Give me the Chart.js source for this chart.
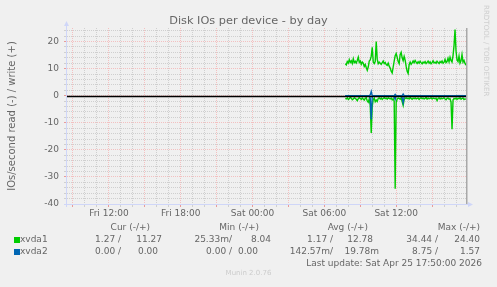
<!DOCTYPE html>
<html>
<head>
<meta charset="utf-8">
<title>Disk IOs per device - by day</title>
<script src="https://cdn.jsdelivr.net/npm/chart.js@4.4.1/dist/chart.umd.min.js"></script>
<style>
    body { margin: 0; background: #f0f0f0; font-family: "DejaVu Sans", sans-serif; color: #666666; }
    #contenedor { position: relative; width: 497px; height: 287px; overflow: hidden; }
    #grafica { position: absolute; left: 0; top: 0; }
    .txt { position: absolute; font-size: 9px; line-height: 11px; white-space: pre; }
    #titulo { position: absolute; left: 0; width: 497px; top: 14px; text-align: center; font-size: 11.3px; color: #666666; }
    #rrd { position: absolute; left: 487px; top: 5px; font-size: 7.1px; color: #cfcfcf; transform-origin: 0 0; transform: translate(-4px, 0) rotate(90deg) translate(0, -8px); white-space: pre; }
    #munin { position: absolute; left: 0; width: 497px; top: 269px; text-align: center; font-size: 7px; color: #cccccc; }
    .cuadro { position: absolute; width: 6px; height: 6px; }
</style>
</head>
<body>
<div id="contenedor">
    <canvas id="grafica" width="497" height="287"></canvas>
    <div id="titulo">Disk IOs per device - by day</div>
    <div id="rrd">RRDTOOL / TOBI OETIKER</div>
    <div id="munin">Munin 2.0.76</div>
    <div id="leyenda"></div>
</div>
<script>
// datos: una muestra cada 5 minutos desde Sat 07:45 hasta Sat 17:50
const inicioMin = 465;   // minutos desde Sat 00:00
const pasoMin = 5;

const xvda1Escritura = [
    11.8, 11.4, 12.6, 12.1, 13.3, 12.3, 12.9, 11.9, 13.6, 12.2,
    12.7, 12.1, 13.0, 14.2, 12.3, 12.8, 11.6, 12.4, 12.0, 10.8,
    11.5, 10.4, 9.4, 10.6, 12.8, 13.2, 14.6, 17.9, 12.5, 11.9,
    12.6, 20.0, 13.5, 11.8, 12.4, 12.0, 11.6, 12.2, 12.8, 11.9,
    12.3, 11.5, 11.2, 12.0, 10.9, 10.2, 9.0, 8.4, 10.6, 12.8,
    14.8, 15.6, 14.2, 12.6, 11.8, 15.2, 16.0, 14.0, 12.9, 14.5,
    13.1, 10.8, 9.0, 8.2, 11.5, 12.4, 11.6, 12.1, 12.8, 12.2,
    13.0, 12.4, 11.9, 12.5, 12.0, 12.7, 12.2, 11.8, 12.4, 12.1,
    12.6, 11.9, 12.3, 12.8, 12.0, 12.5, 11.8, 12.2, 12.9, 12.1,
    12.4, 12.0, 12.7, 12.3, 11.9, 12.6, 12.2, 12.8, 12.0, 12.4,
    13.4, 12.2, 12.6, 13.8, 12.5, 14.2, 13.0, 12.4, 14.8, 18.5,
    24.4, 16.5, 13.2, 12.6, 14.6, 12.0, 12.9, 15.2, 12.4, 13.0,
    11.9, 11.27
];
const xvda1Lectura = [
    1.0, 1.2, 0.8, 1.4, 1.1, 0.6, 0.9, 1.5, 1.2, 0.8,
    1.0, 1.3, 1.8, 1.1, 0.7, 1.0, 1.4, 0.9, 1.2, 1.6,
    1.0, 0.8, 1.9, 2.4, 1.2, 3.5, 13.8, 4.0, 1.4, 0.9,
    2.2, 1.6, 2.1, 1.0, 0.8, 1.2, 0.9, 1.4, 1.0, 0.7,
    1.1, 0.9, 1.3, 0.8, 1.0, 1.2, 0.9, 1.5, 1.1, 2.0,
    34.4, 2.5, 1.2, 0.9, 1.0, 1.3, 0.8, 2.2, 3.6, 1.4,
    1.0, 0.8, 1.1, 0.9, 1.2, 0.7, 1.0, 1.3, 0.9, 1.1,
    0.8, 1.2, 1.0, 0.9, 1.4, 1.0, 0.8, 1.1, 0.9, 1.2,
    1.0, 0.7, 1.3, 0.9, 1.1, 1.0, 0.8, 1.2, 0.9, 1.0,
    1.1, 0.9, 1.8, 1.0, 0.8, 1.2, 0.9, 1.1, 1.0, 0.8,
    1.2, 1.5, 1.0, 0.9, 1.3, 1.1, 2.4, 12.4, 1.6, 1.0,
    1.2, 0.9, 1.4, 1.0, 1.1, 0.8, 1.3, 1.0, 0.9, 1.4,
    1.2, 1.27
];
const xvda2Escritura = [
    0, 0, 0, 0, 0, 0, 0, 0, 0, 0,
    0, 0, 0, 0, 0, 0, 0, 0, 0, 0,
    0, 0, 0, 0, 0, 0.3, 1.57, 0, 0, 0,
    0, 0, 0, 0, 0, 0, 0, 0, 0, 0,
    0, 0, 0, 0, 0, 0, 0, 0, 0, 0,
    0.5, 0, 0, 0, 0, 0, 0, 0, 0.6, 0,
    0, 0, 0, 0, 0, 0, 0, 0, 0, 0,
    0, 0, 0, 0, 0, 0, 0, 0, 0, 0,
    0, 0, 0, 0, 0, 0, 0, 0, 0, 0,
    0, 0, 0, 0, 0, 0, 0, 0, 0, 0,
    0, 0, 0, 0, 0, 0, 0, 0, 0, 0,
    0, 0, 0, 0, 0, 0, 0, 0, 0, 0,
    0, 0
];
const xvda2Lectura = [
    0, 0, 0, 0, 0, 0, 0, 0, 0, 0,
    0, 0, 0, 0, 0, 0, 0, 0, 0, 0,
    0, 0, 0, 0, 0, 1.0, 8.75, 0.5, 0, 0,
    0, 0, 0, 0, 0, 0, 0, 0, 0, 0,
    0, 0, 0, 0, 0, 0, 0, 0, 0, 0.6,
    1.4, 0, 0, 0, 0, 0, 0, 0.8, 2.6, 0.4,
    0, 0, 0, 0, 0, 0, 0, 0, 0, 0,
    0, 0, 0, 0, 0, 0, 0, 0, 0, 0,
    0, 0, 0, 0, 0, 0, 0, 0, 0, 0,
    0, 0, 0, 0, 0, 0, 0, 0, 0, 0,
    0, 0, 0, 0, 0, 0, 0, 0, 0, 0,
    0, 0, 0.2, 0, 0.3, 0, 0.2, 0, 0.3, 0.2,
    0, 0
];

const etiquetasX = ['Fri 12:00', 'Fri 18:00', 'Sat 00:00', 'Sat 06:00', 'Sat 12:00'];
const minutosEtiquetasX = [-720, -360, 0, 360, 720];

const dispositivos = ['xvda1', 'xvda2'];
const coloresDisp = ['#00cc00', '#0066b3'];
const encabezados = ['Cur (-/+)', 'Min (-/+)', 'Avg (-/+)', 'Max (-/+)'];
const statsXvda1 = ['1.27 /', '11.27', '25.33m/', '8.04', '1.17 /', '12.78', '34.44 /', '24.40'];
const statsXvda2 = ['0.00 /', '0.00', '0.00 /', '0.00', '142.57m/', '19.78m', '8.75 /', '1.57'];
const ultimaActualizacion = 'Last update: Sat Apr 25 17:50:00 2026';

// rango del eje: 33h20m hasta el ultimo update
const xMin = -930, xMax = 1070;
const yMin = -40, yMax = 25;

const colorMenor = '#cfcfcf';
const colorMayor = '#f3c0c0';

function serie(valores, signo) {
    return valores.map((v, i) => ({ x: inicioMin + i * pasoMin, y: signo * v }));
}

function dataset(valores, signo, color, orden) {
    return {
        data: serie(valores, signo),
        borderColor: color,
        borderWidth: 1.4,
        pointRadius: 0,
        tension: 0,
        fill: false,
        order: orden
    };
}

const ejesMunin = {
    id: 'ejesMunin',
    afterDatasetsDraw(chart) {
        const { ctx, chartArea: a, scales } = chart;
        const y0 = Math.round(scales.y.getPixelForValue(0)) + 0.5;
        ctx.save();
        // linea de cero
        ctx.strokeStyle = '#000000';
        ctx.lineWidth = 1.5;
        ctx.beginPath();
        ctx.moveTo(a.left, y0);
        ctx.lineTo(a.right, y0);
        ctx.stroke();
        // borde derecho
        ctx.strokeStyle = '#a8a8a8';
        ctx.lineWidth = 1.5;
        ctx.beginPath();
        ctx.moveTo(a.right + 0.75, a.top);
        ctx.lineTo(a.right + 0.75, a.bottom);
        ctx.stroke();
        // ejes con flecha
        ctx.strokeStyle = '#cfd6f8';
        ctx.fillStyle = '#cfd6f8';
        ctx.lineWidth = 1;
        ctx.beginPath();
        ctx.moveTo(a.left - 0.5, a.bottom + 3);
        ctx.lineTo(a.left - 0.5, a.top - 3);
        ctx.moveTo(a.left - 3, a.bottom + 0.5);
        ctx.lineTo(a.right + 3, a.bottom + 0.5);
        ctx.stroke();
        ctx.beginPath();
        ctx.moveTo(a.left - 3, a.top - 2);
        ctx.lineTo(a.left + 2, a.top - 2);
        ctx.lineTo(a.left - 0.5, a.top - 7);
        ctx.closePath();
        ctx.fill();
        ctx.beginPath();
        ctx.moveTo(a.right + 2, a.bottom - 2);
        ctx.lineTo(a.right + 2, a.bottom + 3);
        ctx.lineTo(a.right + 7, a.bottom + 0.5);
        ctx.closePath();
        ctx.fill();
        ctx.restore();
    }
};

const ctx = document.getElementById('grafica').getContext('2d');
new Chart(ctx, {
    type: 'line',
    data: {
        datasets: [
            dataset(xvda2Lectura, -1, coloresDisp[1], 0),
            dataset(xvda2Escritura, 1, coloresDisp[1], 0),
            dataset(xvda1Lectura, -1, coloresDisp[0], 1),
            dataset(xvda1Escritura, 1, coloresDisp[0], 1)
        ]
    },
    options: {
        responsive: false,
        animation: false,
        layout: { padding: { left: 0, right: 31, top: 28, bottom: 0 } },
        plugins: { legend: { display: false }, tooltip: { enabled: false } },
        scales: {
            x: {
                type: 'linear',
                min: xMin,
                max: xMax,
                afterBuildTicks(scale) {
                    const t = [];
                    for (let m = -900; m <= 1020; m += 60) t.push({ value: m });
                    scale.ticks = t;
                },
                afterFit(scale) { scale.height = 83; },
                ticks: {
                    autoSkip: false,
                    maxRotation: 0,
                    padding: 1,
                    color: '#666666',
                    font: { family: 'DejaVu Sans', size: 9 },
                    callback: (v) => {
                        const k = minutosEtiquetasX.indexOf(v);
                        return k >= 0 ? etiquetasX[k] : '';
                    }
                },
                grid: {
                    color: c => (c.tick && c.tick.value % 180 === 0) ? colorMayor : colorMenor,
                    tickColor: c => (c.tick && c.tick.value % 180 === 0) ? '#e89a9a' : colorMenor,
                    tickLength: 3,
                    lineWidth: 1
                },
                border: { display: false, dash: [1, 1] }
            },
            y: {
                type: 'linear',
                min: yMin,
                max: yMax,
                afterBuildTicks(scale) {
                    const t = [];
                    for (let v = -40; v <= 24; v += 2) t.push({ value: v });
                    scale.ticks = t;
                },
                afterFit(scale) { scale.width = 67; },
                ticks: {
                    autoSkip: false,
                    padding: 5,
                    color: '#666666',
                    font: { family: 'DejaVu Sans', size: 9 },
                    callback: (v) => (v % 10 === 0 ? String(v) : '')
                },
                grid: {
                    color: c => (c.tick && c.tick.value % 10 === 0) ? colorMayor : colorMenor,
                    tickColor: c => (c.tick && c.tick.value % 10 === 0) ? '#e89a9a' : colorMenor,
                    tickLength: 3,
                    lineWidth: 1
                },
                border: { display: false, dash: [1, 1] },
                title: {
                    display: true,
                    text: 'IOs/second read (-) / write (+)',
                    color: '#666666',
                    font: { family: 'DejaVu Sans', size: 10 },
                    padding: { top: 6, bottom: 0 }
                }
            }
        }
    },
    plugins: [ejesMunin]
});

// leyenda estilo munin
const leyenda = document.getElementById('leyenda');
const bordesEnc = [150, 259, 368, 480];
const bordesFila = [
    [121, 162, 232, 271, 333, 373, 438, 480],
    [121, 158, 232, 258, 333, 379, 438, 480]
];
const filasY = [233.5, 245.5];

function texto(t, derecha, top) {
    return `<div class="txt" style="right:${497 - derecha}px; top:${top}px;">${t}</div>`;
}

let html = encabezados.map((h, i) => texto(h, bordesEnc[i], 221.5)).join('');
[statsXvda1, statsXvda2].forEach((fila, f) => {
    html += `<div class="cuadro" style="left:14px; top:${filasY[f] + 3}px; background:${coloresDisp[f]};"></div>`;
    html += `<div class="txt" style="left:20px; top:${filasY[f]}px;">${dispositivos[f]}</div>`;
    html += fila.map((v, i) => texto(v, bordesFila[f][i], filasY[f])).join('');
});
html += texto(ultimaActualizacion, 482, 257.5);
leyenda.innerHTML = html;
</script>
</body>
</html>
